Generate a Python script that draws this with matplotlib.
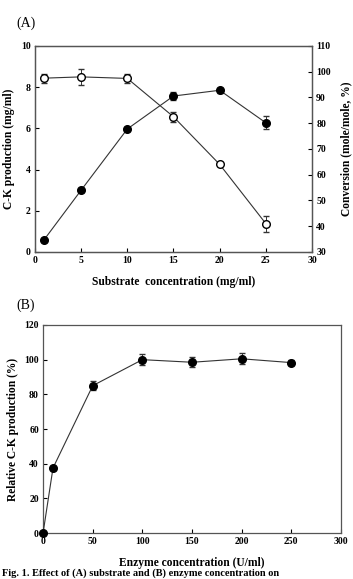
import matplotlib.pyplot as plt

# panel A
substrate = [1, 5, 10, 15, 20, 25]
ck_prod = [0.6, 3.0, 5.97, 7.57, 7.85, 6.27]
ck_err = [0.05, 0.08, 0.08, 0.2, 0.13, 0.32]
conversion = [97.5, 98.0, 97.4, 82.5, 64.0, 41.0]
conv_err = [1.8, 3.0, 1.8, 1.9, 0.6, 3.1]

# panel B
enzyme = [0, 10, 50, 100, 150, 200, 250]
rel_prod = [0, 37.5, 85, 100, 98.5, 100.5, 98.3]
rel_err = [0.5, 1.0, 2.5, 3.0, 3.0, 3.2, 1.5]

plt.rcParams['font.family'] = ['Liberation Serif', 'DejaVu Serif']
plt.rcParams['font.weight'] = 'bold'

fig = plt.figure(figsize=(3.53, 5.79), dpi=100)

LAB = 8.3


def style(ax):
    ax.tick_params(direction='in', length=3, width=0.8, labelsize=7, pad=3)
    for s in ax.spines.values():
        s.set_linewidth(0.9)
        s.set_color('#555555')
    for lab in ax.get_xticklabels() + ax.get_yticklabels():
        lab.set_fontweight('bold')


ax1 = fig.add_axes([0.099, 0.5648, 0.785, 0.3558])
ax1.errorbar(substrate, ck_prod, yerr=ck_err, color='#333333', lw=0.8,
             marker='o', ms=5.5, mfc='black', mec='black', capsize=2.5, elinewidth=0.7, zorder=3)
ax1.set_xlim(0, 30)
ax1.set_ylim(0, 10)
ax1.set_xticks([0, 5, 10, 15, 20, 25, 30])
ax1.set_yticks([0, 2, 4, 6, 8, 10])
ax1.set_xlabel('Substrate  concentration (mg/ml)', fontsize=LAB, fontweight='bold', labelpad=8)
ax1.set_ylabel('C-K production (mg/ml)', fontsize=LAB, fontweight='bold', labelpad=4)
style(ax1)

ax2 = ax1.twinx()
ax2.errorbar(substrate, conversion, yerr=conv_err, color='#333333', lw=0.8,
             marker='o', ms=5.5, mfc='white', mec='black', capsize=2.5, elinewidth=0.7, zorder=3)
ax2.set_ylim(30, 110)
ax2.set_yticks(range(30, 111, 10))
ax2.set_ylabel('Conversion (mole/mole, %)', fontsize=LAB, fontweight='bold', labelpad=7)
style(ax2)

fig.text(0.045, 0.96, '(A)', fontsize=10, fontweight='normal', va='center')

ax3 = fig.add_axes([0.122, 0.0794, 0.844, 0.3593])
ax3.errorbar(enzyme, rel_prod, yerr=rel_err, color='#333333', lw=0.8,
             marker='o', ms=5.5, mfc='black', mec='black', capsize=2.5, elinewidth=0.7, zorder=3,
             clip_on=False)
ax3.set_xlim(0, 300)
ax3.set_ylim(0, 120)
ax3.set_xticks(range(0, 301, 50))
ax3.set_yticks(range(0, 121, 20))
ax3.set_xlabel('Enzyme concentration (U/ml)', fontsize=LAB, fontweight='bold', labelpad=8)
ax3.set_ylabel('Relative C-K production (%)', fontsize=LAB, fontweight='bold', labelpad=4)
style(ax3)

fig.text(0.045, 0.473, '(B)', fontsize=10, fontweight='normal', va='center')

fig.text(0.005, 0.001, 'Fig. 1. Effect of (A) substrate and (B) enzyme concentration on',
         fontsize=7.5, fontweight='bold', va='bottom', ha='left')

fig.savefig('out.png', dpi=100)
